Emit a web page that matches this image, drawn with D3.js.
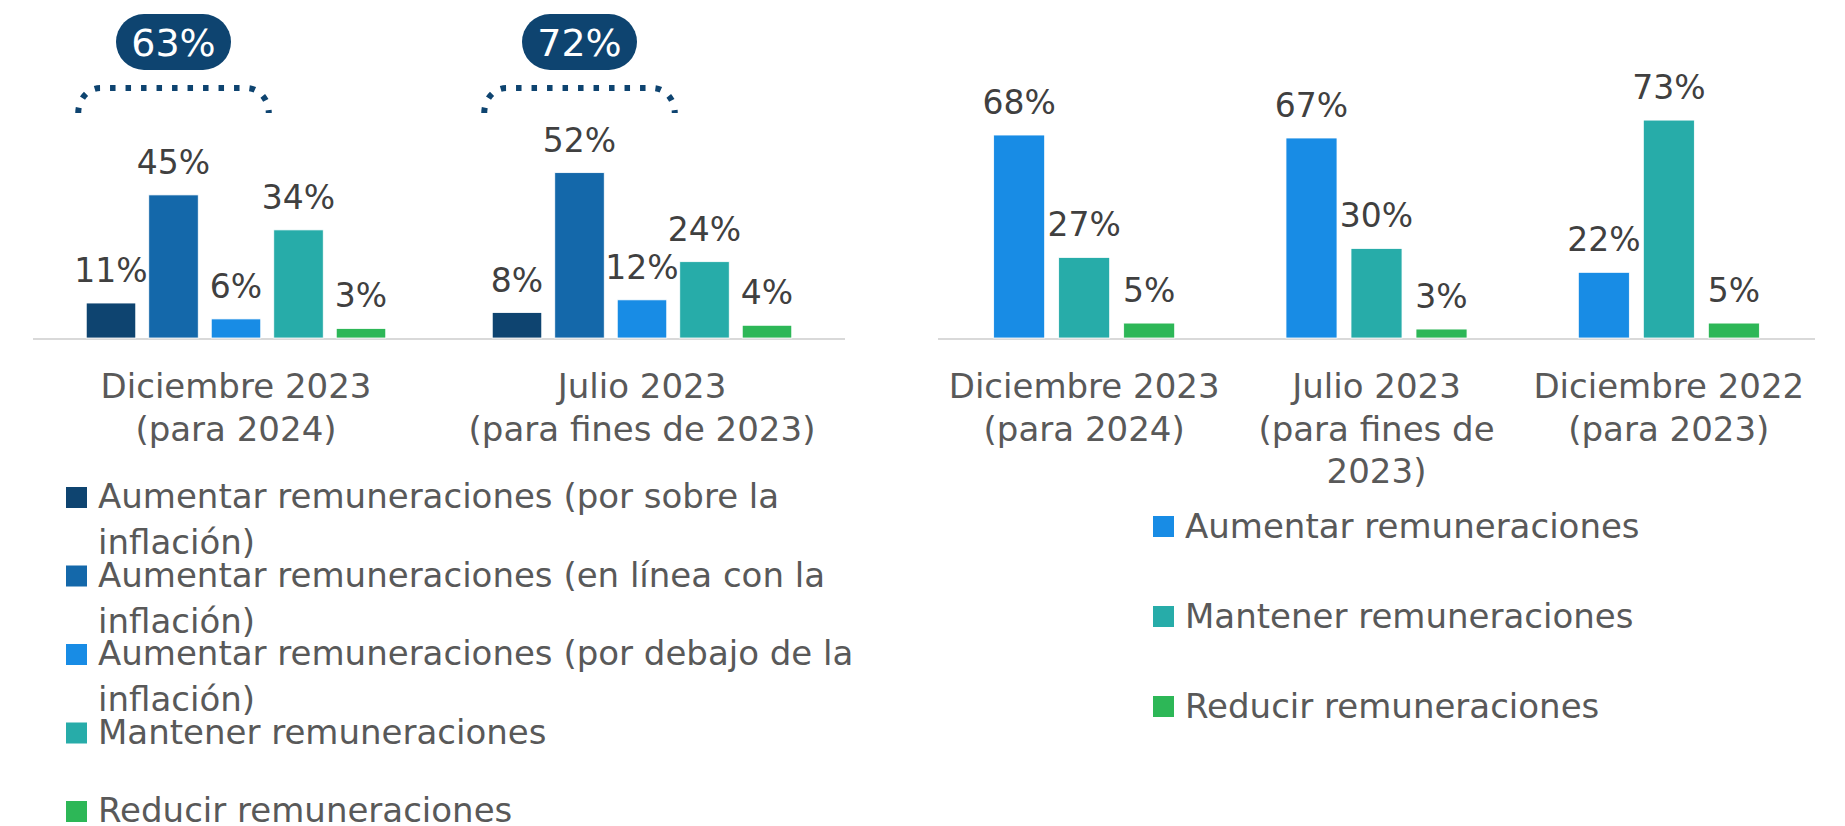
<!DOCTYPE html>
<html>
<head>
<meta charset="utf-8">
<script src="https://cdn.jsdelivr.net/npm/d3@7"></script>
<style>
  body { margin: 0; background: #fff; }
  text { font-family: "DejaVu Sans", sans-serif; }
</style>
</head>
<body>
<svg id="chart" width="1845" height="826"></svg>
<script>
// grafico izquierdo
let periodos1 = [["Diciembre 2023", "(para 2024)"], ["Julio 2023", "(para fines de 2023)"]]
let series1 = [
  "Aumentar remuneraciones (por sobre la inflación)",
  "Aumentar remuneraciones (en línea con la inflación)",
  "Aumentar remuneraciones (por debajo de la inflación)",
  "Mantener remuneraciones",
  "Reducir remuneraciones"
]
let valores1 = [[11, 45, 6, 34, 3], [8, 52, 12, 24, 4]]
let totales1 = [63, 72]
let colores1 = ["#0e4470", "#1468aa", "#188ce5", "#27aca9", "#2db757"]

// grafico derecho
let periodos2 = [["Diciembre 2023", "(para 2024)"], ["Julio 2023", "(para fines de", "2023)"], ["Diciembre 2022", "(para 2023)"]]
let series2 = ["Aumentar remuneraciones", "Mantener remuneraciones", "Reducir remuneraciones"]
let valores2 = [[68, 27, 5], [67, 30, 3], [22, 73, 5]]
let colores2 = ["#188ce5", "#27aca9", "#2db757"]

let svg = d3.select("#chart")
let base = 338

function barras(g, periodos, series, valores, colores, x0, x1, y) {
  g.append("line")
    .attr("x1", x0.range()[0]).attr("x2", x0.range()[1])
    .attr("y1", base + 1).attr("y2", base + 1)
    .attr("stroke", "#d9d9d9").attr("stroke-width", 2)

  let grupos = g.selectAll("g.grupo")
    .data(periodos)
    .enter()
    .append("g")
    .attr("class", "grupo")
    .attr("transform", (d, i) => `translate(${x0(i)},0)`)

  grupos.selectAll("rect")
    .data((d, i) => valores[i].map((v, j) => ({ v: v, s: series[j], c: colores[j] })))
    .enter()
    .append("rect")
    .attr("x", d => x1(d.s))
    .attr("y", d => y(d.v))
    .attr("width", x1.bandwidth())
    .attr("height", d => base - y(d.v))
    .attr("fill", d => d.c)
    .attr("stroke", "#fff")
    .attr("stroke-width", 0.8)

  grupos.selectAll("text.valor")
    .data((d, i) => valores[i].map((v, j) => ({ v: v, s: series[j] })))
    .enter()
    .append("text")
    .attr("class", "valor")
    .attr("x", d => x1(d.s) + x1.bandwidth() / 2)
    .attr("y", d => y(d.v) - 21)
    .attr("text-anchor", "middle")
    .attr("font-size", 33)
    .attr("fill", "#404040")
    .text(d => d.v + "%")

  grupos.each(function (d) {
    let t = d3.select(this).append("text")
      .attr("text-anchor", "middle")
      .attr("font-size", 34)
      .attr("fill", "#595959")
    d.forEach((linea, k) => {
      t.append("tspan")
        .attr("x", x0.bandwidth() / 2)
        .attr("y", 398 + k * 42.5)
        .text(linea)
    })
  })
  return grupos
}

// ---- izquierdo
let gIzq = svg.append("g")
let x0a = d3.scaleBand().domain(d3.range(periodos1.length)).range([33, 845])
let x1a = d3.scaleBand().domain(series1).range([0, x0a.bandwidth()]).paddingInner(0.208).paddingOuter(0.852)
let ya = d3.scaleLinear().domain([0, 100]).range([base, base - 318])
let gruposIzq = barras(gIzq, periodos1, series1, valores1, colores1, x0a, x1a, ya)

// llaves punteadas y totales
gruposIzq.each(function (d, i) {
  let g = d3.select(this)
  let step = x1a.step()
  let cx = x1a(series1[1]) + x1a.bandwidth() / 2
  let a = cx - step - x1a.bandwidth() / 2 - 8
  let b = cx + step + x1a.bandwidth() / 2 + 8
  let top = 88, bot = 113, r = 22
  g.append("path")
    .attr("d", `M${a},${bot} A${r},${bot - top} 0 0 1 ${a + r},${top} L${b - r},${top} A${r},${bot - top} 0 0 1 ${b},${bot}`)
    .attr("fill", "none")
    .attr("stroke", "#0e4470")
    .attr("stroke-width", 6)
    .attr("stroke-dasharray", "5.5 10")
  g.append("rect")
    .attr("x", cx - 57.5).attr("y", 14)
    .attr("width", 115).attr("height", 56)
    .attr("rx", 28)
    .attr("fill", "#0e4470")
  g.append("text")
    .attr("x", cx).attr("y", 56)
    .attr("text-anchor", "middle")
    .attr("font-size", 38)
    .attr("fill", "#fff")
    .text(totales1[i] + "%")
})

// leyenda izquierda (ajuste de linea)
let legIzq = svg.append("g")
series1.forEach((s, i) => {
  let yy = 487 + i * 78.5
  legIzq.append("rect")
    .attr("x", 66).attr("y", yy).attr("width", 21).attr("height", 21)
    .attr("fill", colores1[i])
  let t = legIzq.append("text")
    .attr("font-size", 34).attr("fill", "#595959")
  let palabras = s.split(" ")
  let linea = []
  let k = 0
  let ts = t.append("tspan").attr("x", 98).attr("y", yy + 21)
  palabras.forEach(p => {
    linea.push(p)
    ts.text(linea.join(" "))
    if (ts.node().getComputedTextLength() > 790 && linea.length > 1) {
      linea.pop()
      ts.text(linea.join(" "))
      linea = [p]
      k++
      ts = t.append("tspan").attr("x", 98).attr("y", yy + 21 + k * 46).text(p)
    }
  })
})

// ---- derecho
let gDer = svg.append("g")
let x0b = d3.scaleBand().domain(d3.range(periodos2.length)).range([938, 1815])
let x1b = d3.scaleBand().domain(series2).range([0, x0b.bandwidth()]).paddingInner(0.215).paddingOuter(0.856)
let yb = d3.scaleLinear().domain([0, 100]).range([base, base - 298.5])
barras(gDer, periodos2, series2, valores2, colores2, x0b, x1b, yb)

let legDer = svg.append("g")
series2.forEach((s, i) => {
  let yy = 516 + i * 90
  legDer.append("rect")
    .attr("x", 1153).attr("y", yy).attr("width", 21).attr("height", 21)
    .attr("fill", colores2[i])
  legDer.append("text")
    .attr("x", 1185).attr("y", yy + 22)
    .attr("font-size", 34).attr("fill", "#595959")
    .text(s)
})
</script>
</body>
</html>
